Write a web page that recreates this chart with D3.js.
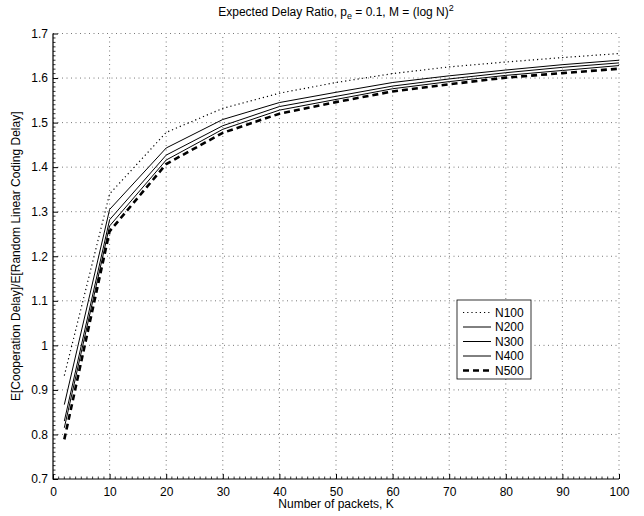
<!DOCTYPE html>
<html>
<head>
<meta charset="utf-8">
<script src="https://cdn.jsdelivr.net/npm/d3@7"></script>
<style>
  body { margin: 0; background: #fff; }
  svg text { font-family: "Liberation Sans", Arial, Helvetica, sans-serif; fill: #000; }
</style>
</head>
<body>
<div id="chart"></div>
<script>
// packets K
var packets = [2, 10, 20, 30, 40, 50, 60, 70, 80, 90, 100];

// ratio values per N
var n100 = [0.932, 1.340, 1.478, 1.532, 1.566, 1.590, 1.610, 1.625, 1.636, 1.646, 1.655];
var n200 = [0.867, 1.305, 1.443, 1.507, 1.545, 1.568, 1.590, 1.605, 1.618, 1.630, 1.640];
var n300 = [0.830, 1.282, 1.427, 1.493, 1.536, 1.559, 1.582, 1.598, 1.612, 1.624, 1.634];
var n400 = [0.815, 1.268, 1.416, 1.485, 1.528, 1.552, 1.576, 1.592, 1.606, 1.617, 1.628];
var n500 = [0.789, 1.256, 1.407, 1.477, 1.520, 1.546, 1.570, 1.586, 1.601, 1.611, 1.621];

var seriesNames = ['N100', 'N200', 'N300', 'N400', 'N500'];
var seriesValues = [n100, n200, n300, n400, n500];

var xTicks = [0, 10, 20, 30, 40, 50, 60, 70, 80, 90, 100];
var yTicks = [0.7, 0.8, 0.9, 1, 1.1, 1.2, 1.3, 1.4, 1.5, 1.6, 1.7];

var width = 644, height = 516;
var margin = {left: 53, right: 25, top: 33.5, bottom: 37};

var svg = d3.select('#chart').append('svg')
    .attr('width', width)
    .attr('height', height);

var x = d3.scaleLinear().domain([0, 100]).range([margin.left, width - margin.right]);
var y = d3.scaleLinear().domain([0.7, 1.7]).range([height - margin.bottom, margin.top]);

// dotted grid
var grid = svg.append('g').attr('class', 'grid')
    .attr('stroke', '#555')
    .attr('stroke-width', 0.8)
    .attr('stroke-dasharray', '1,3.5');

grid.selectAll('line.gx').data(xTicks.slice(1)).enter().append('line')
    .attr('x1', function(d) { return x(d); })
    .attr('x2', function(d) { return x(d); })
    .attr('y1', y(0.7))
    .attr('y2', y(1.7));

grid.selectAll('line.gy').data(yTicks.slice(1)).enter().append('line')
    .attr('x1', x(0))
    .attr('x2', x(100))
    .attr('y1', function(d) { return y(d); })
    .attr('y2', function(d) { return y(d); });

// axes (ticks point inwards)
var xAxis = d3.axisBottom(x).tickValues(xTicks).tickSize(-5).tickPadding(8)
    .tickFormat(d3.format('d'));
var yAxis = d3.axisLeft(y).tickValues(yTicks).tickSize(-5).tickPadding(5)
    .tickFormat(function(d) { return d === 1 ? '1' : d3.format('.1f')(d); });

var gx = svg.append('g')
    .attr('transform', 'translate(0,' + y(0.7) + ')')
    .call(xAxis);
var gy = svg.append('g')
    .attr('transform', 'translate(' + x(0) + ',0)')
    .call(yAxis);

[gx, gy].forEach(function(g) {
    g.select('.domain').attr('d', null);
    g.selectAll('text').attr('font-size', 12)
        .attr('font-family', '"Liberation Sans", Arial, sans-serif');
    g.selectAll('.tick line').attr('stroke', '#000');
});

// minor ticks
var minorX = d3.range(0, 101, 1).filter(function(d) { return d % 10 !== 0; });
var minorY = d3.range(70, 171, 1).filter(function(d) { return d % 10 !== 0; }).map(function(d) { return d / 100; });

svg.append('g').selectAll('line').data(minorX).enter().append('line')
    .attr('x1', function(d) { return x(d); })
    .attr('x2', function(d) { return x(d); })
    .attr('y1', y(0.7))
    .attr('y2', y(0.7) - 2.5)
    .attr('stroke', '#000')
    .attr('stroke-width', 0.8);

svg.append('g').selectAll('line').data(minorY).enter().append('line')
    .attr('x1', x(0))
    .attr('x2', x(0) + 2.5)
    .attr('y1', function(d) { return y(d); })
    .attr('y2', function(d) { return y(d); })
    .attr('stroke', '#000')
    .attr('stroke-width', 0.8);

// axis lines left and bottom
svg.append('path')
    .attr('d', 'M' + x(0) + ',' + y(1.7) + 'V' + y(0.7) + 'H' + x(100))
    .attr('fill', 'none')
    .attr('stroke', '#000')
    .attr('stroke-width', 1.2);

// line styles
var styles = [
    {dash: '1.2,3', width: 1.2},
    {dash: null, width: 1},
    {dash: null, width: 1},
    {dash: null, width: 1},
    {dash: '6,4', width: 2.6}
];

var line = d3.line()
    .x(function(d, i) { return x(packets[i]); })
    .y(function(d) { return y(d); });

svg.append('g').selectAll('path').data(seriesValues).enter().append('path')
    .attr('d', line)
    .attr('fill', 'none')
    .attr('stroke', '#000')
    .attr('stroke-width', function(d, i) { return styles[i].width; })
    .attr('stroke-dasharray', function(d, i) { return styles[i].dash; });

// legend
var lg = svg.append('g').attr('transform', 'translate(457,300)');
lg.append('rect')
    .attr('width', 74)
    .attr('height', 79)
    .attr('fill', '#fff')
    .attr('stroke', '#000')
    .attr('stroke-width', 0.8);

var items = lg.selectAll('g.item').data(seriesNames).enter().append('g')
    .attr('transform', function(d, i) { return 'translate(0,' + (12.5 + i * 14.5) + ')'; });

items.append('line')
    .attr('x1', 6).attr('x2', 34)
    .attr('y1', 0).attr('y2', 0)
    .attr('stroke', '#000')
    .attr('stroke-width', function(d, i) { return styles[i].width; })
    .attr('stroke-dasharray', function(d, i) { return styles[i].dash; });

items.append('text')
    .attr('x', 38)
    .attr('y', 0)
    .attr('dy', '0.35em')
    .attr('font-size', 12)
    .text(function(d) { return d; });

// title
var title = svg.append('text')
    .attr('x', (x(0) + x(100)) / 2)
    .attr('y', 16)
    .attr('text-anchor', 'middle')
    .attr('font-size', 12);
title.append('tspan').text('Expected Delay Ratio, p');
title.append('tspan').attr('font-size', 9).attr('dy', 3).text('e');
title.append('tspan').attr('dy', -3).text(' = 0.1, M = (log N)');
title.append('tspan').attr('font-size', 9).attr('dy', -5).text('2');

// axis labels
svg.append('text')
    .attr('x', (x(0) + x(100)) / 2)
    .attr('y', 508)
    .attr('text-anchor', 'middle')
    .attr('font-size', 12)
    .text('Number of packets, K');

svg.append('text')
    .attr('transform', 'translate(20,' + (y(1.2)) + ') rotate(-90)')
    .attr('text-anchor', 'middle')
    .attr('font-size', 12)
    .text('E[Cooperation Delay]/E[Random Linear Coding Delay]');
</script>
</body>
</html>
